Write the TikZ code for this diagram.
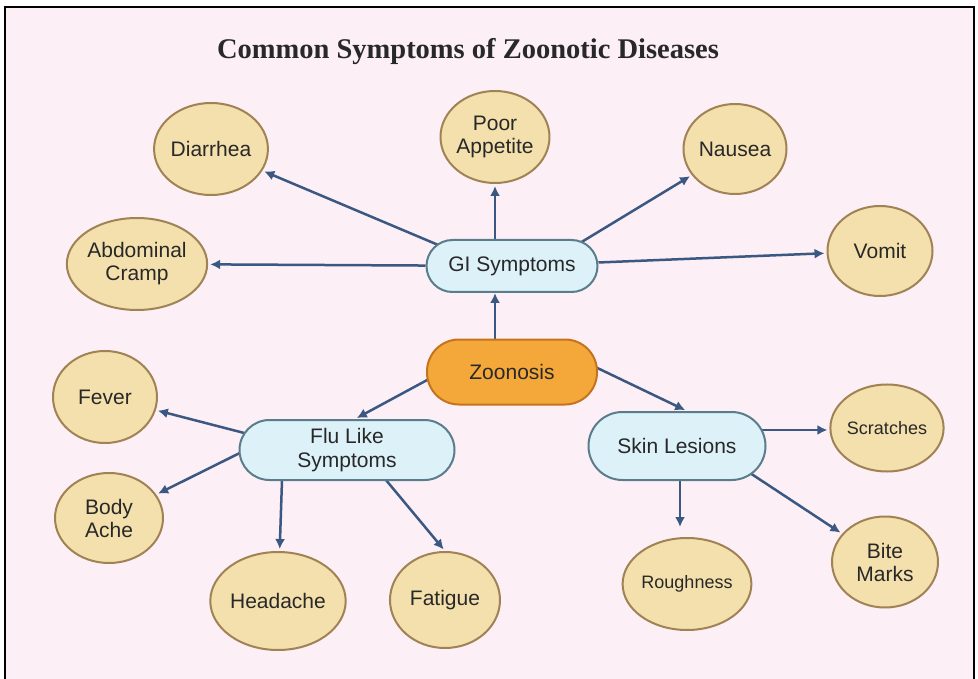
\documentclass[tikz,border=0pt]{standalone}
\usepackage{fontspec}
\setmainfont{Liberation Sans}
\newfontfamily\titlefont{Liberation Serif}
\usetikzlibrary{shapes.geometric,arrows.meta,calc}
\definecolor{bg}{RGB}{252,239,246}
\definecolor{tanfill}{RGB}{243,224,172}
\definecolor{tanline}{RGB}{160,130,85}
\definecolor{bluefill}{RGB}{221,241,248}
\definecolor{blueline}{RGB}{90,125,140}
\definecolor{orfill}{RGB}{245,168,58}
\definecolor{orline}{RGB}{196,115,30}
\definecolor{arr}{RGB}{58,88,130}
\definecolor{txt}{RGB}{40,40,40}
\pgfdeclarelayer{bottom}
\pgfdeclarelayer{edges}
\pgfsetlayers{bottom,edges,main}
\begin{document}
\begin{tikzpicture}[x=1pt,y=-1pt,
  leaf/.style={ellipse,draw=tanline,fill=tanfill,line width=2pt,inner sep=0pt,align=center,text=txt,font=\fontsize{21}{23}\selectfont},
  hub/.style={draw=blueline,fill=bluefill,line width=2pt,inner sep=0pt,align=center,text=txt,font=\fontsize{21}{24}\selectfont},
  link/.style={draw=arr,line width=2.5pt,-{Latex[length=10pt,width=10pt]},shorten >=2pt}]
\useasboundingbox (0,0) rectangle (978,679);
\begin{pgfonlayer}{bottom}
  \fill[white] (0,0) rectangle (978,679);
  \filldraw[fill=bg,draw=black,line width=1.5pt] (5,7) rectangle (974,690);
\end{pgfonlayer}

\node[text=txt,font=\titlefont\bfseries\fontsize{28.5}{30}\selectfont] (title) at (468,52) {Common Symptoms of Zoonotic Diseases};

\node[hub,minimum width=171pt,minimum height=52pt,rounded corners=26pt] (gi) at (512,266) {GI Symptoms};
\node[hub,fill=orfill,draw=orline,minimum width=170pt,minimum height=65pt,rounded corners=32pt] (zoo) at (512,372) {Zoonosis};
\node[hub,minimum width=215pt,minimum height=60pt,rounded corners=30pt] (flu) at (347,450) {Flu Like\\Symptoms};
\node[hub,minimum width=177pt,minimum height=68pt,rounded corners=34pt] (skin) at (677,446) {Skin Lesions};

\node[leaf,minimum width=103pt,minimum height=92pt] (diar) at (211,149) {Diarrhea};
\node[leaf,minimum width=125pt,minimum height=92pt] (abd) at (137,264) {Abdominal\\Cramp};
\node[leaf,minimum width=100pt,minimum height=92pt] (pa) at (495,137) {Poor\\Appetite};
\node[leaf,minimum width=103pt,minimum height=90pt] (nau) at (735,149) {Nausea};
\node[leaf,minimum width=105pt,minimum height=90pt] (vom) at (880,251) {Vomit};
\node[leaf,minimum width=104pt,minimum height=92pt] (fev) at (105,397) {Fever};
\node[leaf,minimum width=108pt,minimum height=90pt] (body) at (109,518) {Body\\Ache};
\node[leaf,minimum width=127pt,minimum height=98pt] (head) at (278,601) {Headache};
\node[leaf,minimum width=110pt,minimum height=96pt] (fat) at (445,600) {Fatigue};
\node[leaf,minimum width=101pt,minimum height=87pt,font=\fontsize{18}{21}\selectfont] (scr) at (887,428) {Scratches};
\node[leaf,minimum width=120pt,minimum height=92pt,font=\fontsize{18}{21}\selectfont] (rough) at (687,584) {Roughness};
\node[leaf,minimum width=106pt,minimum height=91pt] (bite) at (885,562) {Bite\\Marks};

\begin{pgfonlayer}{edges}
  \draw[link,shorten >=0pt] (zoo.center -| pa) -- (gi.south -| pa);
  \draw[link] (gi.center -| pa) -- (pa);
  \draw[link] ($(gi)+(-24,0)$) -- (diar);
  \draw[link] ($(gi)+(30,0)$) -- (nau);
  \draw[link] (gi) -- (abd);
  \draw[link] (gi) -- (vom);
  \draw[link] ($(zoo)+(-70,0)$) -- ($(flu.north)+(8,0)$);
  \draw[link] ($(zoo)+(52,-20)$) -- ($(skin.north)+(10,0)$);
  \draw[link] ($(flu)+(-37,0)$) -- (fev);
  \draw[link] ($(flu)+(-77,-12)$) -- (body);
  \draw[link] ($(flu)+(-64,0)$) -- (head);
  \draw[link] ($(flu)+(14,0)$) -- (fat.north);
  \draw[link] ($(skin)+(60,-16)$) -- ($(scr.west)+(0,2)$);
  \draw[link] ($(skin)+(3,0)$) -- ($(rough.north)+(-7,-8)$);
  \draw[link] ($(skin)+(32,0)$) -- (bite);
\end{pgfonlayer}
\end{tikzpicture}
\end{document}
